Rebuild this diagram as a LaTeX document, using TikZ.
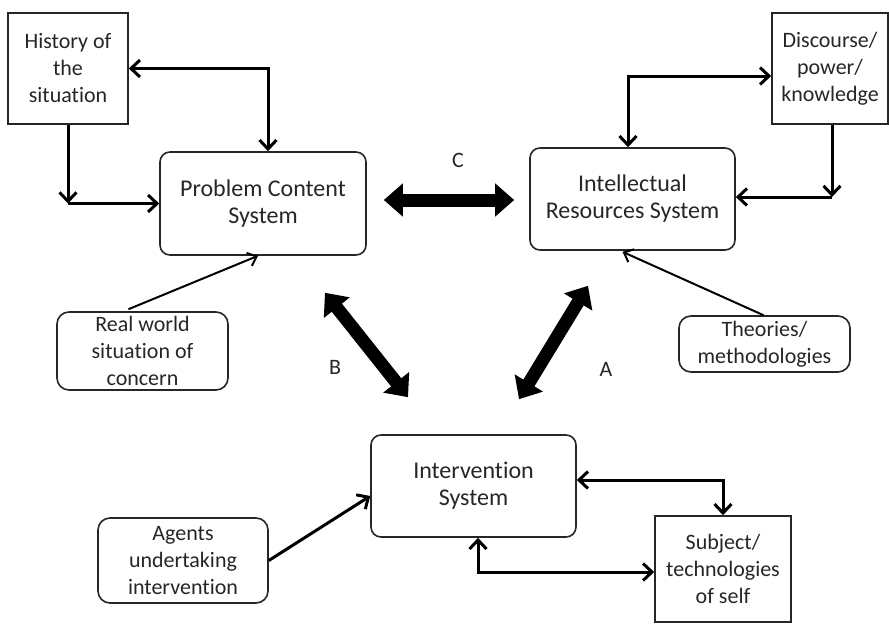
\documentclass[tikz,border=0pt]{standalone}
\usepackage{fontspec}
\setmainfont{Carlito}[Ligatures={NoCommon}]
\usetikzlibrary{arrows.meta,calc}

\tikzset{
  box/.style={draw=black!85, line width=1.6pt, align=center, inner sep=2pt,
              font=\fontsize{22}{27}\selectfont, text=black!85},
  sysbox/.style={box, rounded corners=10pt, font=\fontsize{24}{27}\selectfont},
  inbox/.style={box, rounded corners=12pt},
  sqbox/.style={box},
  conn/.style={line width=3pt, black,
               arrows={-Straight Barb[length=9pt,width=17pt,line width=3pt]}},
  dconn/.style={line width=3pt, black,
               arrows={Straight Barb[length=9pt,width=17pt,line width=3pt]-Straight Barb[length=9pt,width=17pt,line width=3pt]}},
  feed/.style={line width=2pt, black,
               arrows={-Straight Barb[length=8pt,width=14pt,line width=2pt]}},
  bigarrow/.style={line width=13pt, black,
               arrows={Triangle[length=19pt,width=32pt]-Triangle[length=19pt,width=32pt]}},
  lbl/.style={font=\fontsize{22}{27}\selectfont, text=black!85}
}

\begin{document}
\begin{tikzpicture}[x=1pt,y=-1pt]
  \useasboundingbox (0,0) rectangle (889,624);

  % the three systems
  \node[sysbox, minimum width=206pt, minimum height=103pt] (pcs) at (263,203.5) {Problem Content\\System};
  \node[sysbox, minimum width=205pt, minimum height=102pt] (irs) at (632.5,199) {Intellectual\\Resources System};
  \node[sysbox, minimum width=205pt, minimum height=102pt] (int) at (473.5,486) {Intervention\\System};

  % surrounding elements
  \node[sqbox, minimum width=120pt, minimum height=111pt] (hist) at (68,68.5) {History of\\the\\situation};
  \node[sqbox, minimum width=116pt, minimum height=111pt] (disc) at (830,68.5) {Discourse/\\power/\\knowledge};
  \node[sqbox, minimum width=136pt, minimum height=106pt] (subj) at (723,569) {Subject/\\technologies\\of self};
  \node[inbox, minimum width=171pt, minimum height=78pt] (real) at (142.5,351) {Real world\\situation of\\concern};
  \node[inbox, minimum width=171pt, minimum height=56pt] (theo) at (764.5,344) {Theories/\\methodologies};
  \node[inbox, minimum width=170pt, minimum height=85pt] (agents) at (183,560.5) {Agents\\undertaking\\intervention};

  % history loop
  \draw[dconn] (hist.east) -| ($(pcs.north)+(5,0)$);
  \coordinate (hc) at (hist.south |- pcs.west);
  \draw[conn] (hist.south) -- (hc);
  \draw[conn] (hc) -- (pcs.west);

  % discourse loop
  \draw[dconn] ($(irs.north)+(-4.5,0)$) |- ($(disc.west)+(0,7.5)$);
  \coordinate (dc) at ($(disc.south |- irs.east)+(2,-2)$);
  \draw[conn] ($(disc.south)+(2,0)$) -- (dc);
  \draw[conn] (dc) -- ($(irs.east)+(0,-2)$);

  % subject loops
  \draw[dconn] ($(int.east)+(0,-6)$) -| (subj.north);
  \draw[dconn] ($(int.south)+(4.5,0)$) |- ($(subj.west)+(0,3)$);

  % inputs
  \draw[feed] ($(real.north)+(-14,-2)$) -- ($(pcs.south)+(-5,0)$);
  \draw[feed] ($(theo.north)+(-1,0)$) -- ($(irs.south)+(-10,1)$);
  \draw[conn] (agents.east) -- ($(int.west)+(0,10)$);

  % relations between the systems
  \draw[bigarrow] ($(pcs.east)+(17,-3.5)$) -- ($(irs.west)+(-15,1)$);
  \draw[bigarrow] ($(pcs.south)+(62,37)$) -- ($(int.north)+(-65.5,-37)$);
  \draw[bigarrow] ($(irs.south)+(-44.5,35)$) -- ($(int.north)+(45.5,-35)$);

  \node[lbl] (lc) at (458,160) {C};
  \node[lbl] (lb) at (335,367) {B};
  \node[lbl] (la) at (606,369) {A};
\end{tikzpicture}
\end{document}
